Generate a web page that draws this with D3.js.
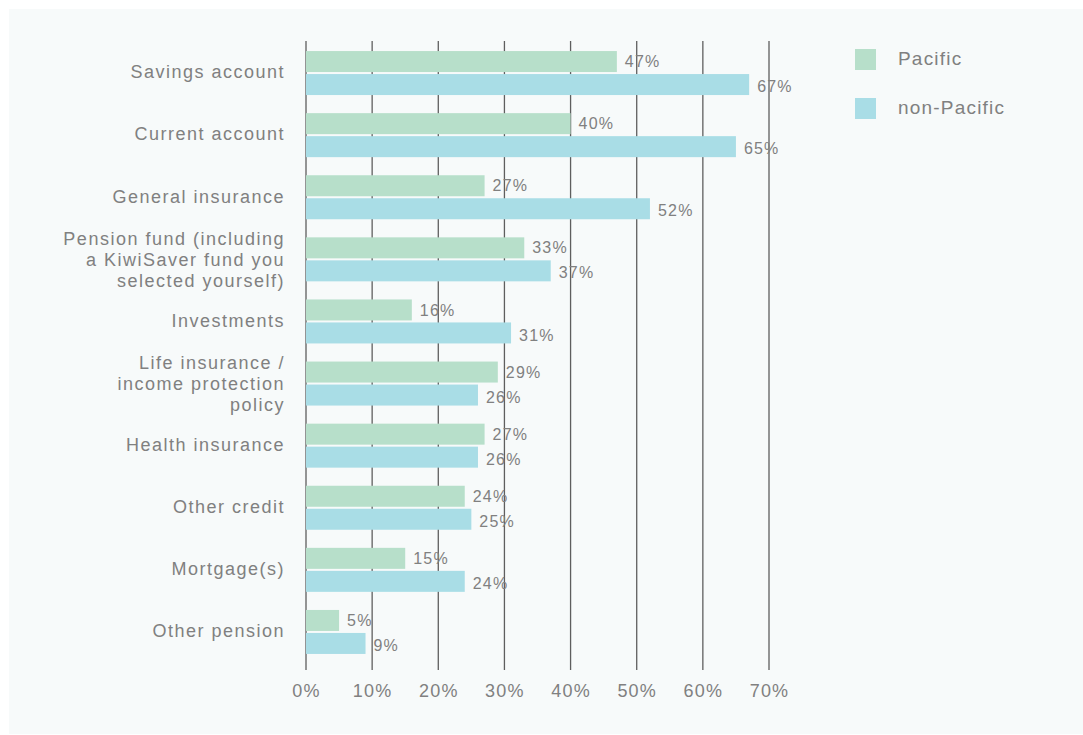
<!DOCTYPE html>
<html>
<head>
<meta charset="utf-8">
<script src="https://cdn.jsdelivr.net/npm/d3@7/dist/d3.min.js"></script>
<style>
  html, body { margin: 0; padding: 0; background: #ffffff; }
  svg { display: block; }
  text { font-family: "Liberation Sans", Arial, sans-serif; fill: #808080; letter-spacing: 1.2px; }
  text.cat { letter-spacing: 1.5px; }
</style>
</head>
<body>
<svg id="chart" width="1083" height="735"></svg>
<script>
// Products held, by group (share of respondents)
const categories = [
  ["Savings account"],
  ["Current account"],
  ["General insurance"],
  ["Pension fund (including", "a KiwiSaver fund you", "selected yourself)"],
  ["Investments"],
  ["Life insurance /", "income protection", "policy"],
  ["Health insurance"],
  ["Other credit"],
  ["Mortgage(s)"],
  ["Other pension"]
];
const seriesNames = ["Pacific", "non-Pacific"];
const pacific    = [47, 40, 27, 33, 16, 29, 27, 24, 15, 5];
const nonPacific = [67, 65, 52, 37, 31, 26, 26, 25, 24, 9];
const tickValues = [0, 10, 20, 30, 40, 50, 60, 70];
const colors = ["#b7dfca", "#a9dde6"];

const svg = d3.select("#chart");

// panel background
svg.append("rect")
  .attr("x", 9).attr("y", 9).attr("width", 1074).attr("height", 725)
  .attr("fill", "#f7fafa");

const x = d3.scaleLinear().domain([0, 70]).range([306, 769]);
const y = d3.scaleBand()
  .domain(d3.range(categories.length))
  .range([42, 663])
  .paddingInner(0.26)
  .paddingOuter(0.13);

const barH = 21, gap = 2;

// vertical gridlines
svg.append("g").selectAll("line")
  .data(tickValues)
  .join("line")
  .attr("x1", d => x(d)).attr("x2", d => x(d))
  .attr("y1", 41).attr("y2", 670)
  .attr("stroke", "#5e5e5e")
  .attr("stroke-width", 1.3);

// x axis tick labels
const xAxis = d3.axisBottom(x)
  .tickValues(tickValues)
  .tickFormat(d => d + "%")
  .tickSize(0)
  .tickPadding(0);
const gx = svg.append("g")
  .attr("transform", "translate(0,683)")
  .call(xAxis);
gx.select(".domain").remove();
gx.selectAll("text")
  .attr("font-size", 18)
  .attr("dy", "0.35em")
  .attr("y", 8)
  .style("fill", "#808080")
  .style("letter-spacing", "1.2px")
  .style("font-family", "\"Liberation Sans\", Arial, sans-serif");

const rows = categories.map((c, i) => ({ i, lines: c, vals: [pacific[i], nonPacific[i]] }));

const groups = svg.append("g").selectAll("g")
  .data(rows)
  .join("g")
  .attr("transform", d => `translate(0,${y(d.i) + y.bandwidth() / 2})`);

// bars
groups.selectAll("rect")
  .data(d => d.vals.map((v, k) => ({ v, k })))
  .join("rect")
  .attr("x", x(0))
  .attr("y", d => d.k === 0 ? -barH - gap / 2 : gap / 2)
  .attr("width", d => x(d.v) - x(0))
  .attr("height", barH)
  .attr("fill", d => colors[d.k]);

// value labels
groups.selectAll("text.val")
  .data(d => d.vals.map((v, k) => ({ v, k })))
  .join("text")
  .attr("class", "val")
  .attr("x", d => x(d.v) + 8)
  .attr("y", d => d.k === 0 ? -barH / 2 - gap / 2 : barH / 2 + gap / 2 + 2)
  .attr("dy", "0.35em")
  .attr("font-size", 16)
  .text(d => d.v + "%");

// category labels
groups.append("text")
  .attr("class", "cat")
  .attr("text-anchor", "end")
  .attr("x", 285)
  .attr("font-size", 18)
  .selectAll("tspan")
  .data(d => d.lines.map((t, j) => ({ t, j, n: d.lines.length })))
  .join("tspan")
  .attr("x", 285)
  .attr("y", d => (d.j - (d.n - 1) / 2) * 21 - (d.n === 1 ? 1 : 0))
  .attr("dy", "0.35em")
  .text(d => d.t);

// legend
const legend = svg.append("g").selectAll("g")
  .data(seriesNames)
  .join("g")
  .attr("transform", (d, i) => `translate(855,${49 + i * 49})`);
legend.append("rect")
  .attr("width", 21).attr("height", 21)
  .attr("fill", (d, i) => colors[i]);
legend.append("text")
  .attr("x", 43).attr("y", 9.5)
  .attr("dy", "0.35em")
  .attr("font-size", 19)
  .text(d => d);
</script>
</body>
</html>
